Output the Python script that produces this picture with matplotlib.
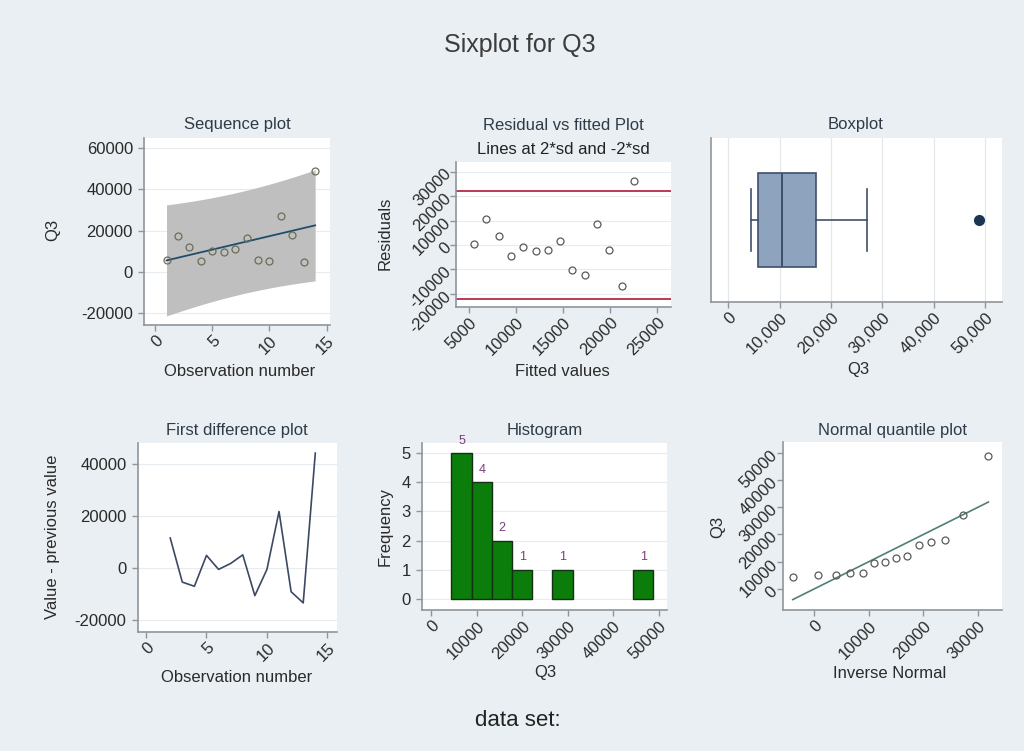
import numpy as np
import matplotlib
matplotlib.use('Agg')
import matplotlib.pyplot as plt
from matplotlib.ticker import FuncFormatter
from statistics import NormalDist

# ---------------- data ----------------
obs = np.arange(1, 15)
q3 = np.array([5800, 17400, 12000, 5000, 9900, 9400, 11200, 16300,
               5700, 5200, 27000, 17900, 4500, 48800])

seq_yticks = [-20000, 0, 20000, 40000, 60000]
obs_ticks = [0, 5, 10, 15]
fit_xticks = [5000, 10000, 15000, 20000, 25000]
res_yticks = [-20000, -10000, 0, 10000, 20000, 30000]
box_xticks = [0, 10000, 20000, 30000, 40000, 50000]
diff_yticks = [-20000, 0, 20000, 40000]
hist_xticks = [0, 10000, 20000, 30000, 40000, 50000]
hist_yticks = [0, 1, 2, 3, 4, 5]
qn_xticks = [0, 10000, 20000, 30000]
qn_yticks = [0, 10000, 20000, 30000, 40000, 50000]
n_bins = 10
T975_12 = 2.1788   # t quantile, 12 df

# ---------------- statistics ----------------
n = len(q3)
xb, yb = obs.mean(), q3.mean()
sxx = ((obs - xb) ** 2).sum()
slope = ((obs - xb) * (q3 - yb)).sum() / sxx
icpt = yb - slope * xb
fitted = icpt + slope * obs
resid = q3 - fitted
rmse = np.sqrt((resid ** 2).sum() / (n - 2))
xs = np.linspace(obs.min(), obs.max(), 200)
fit_xs = icpt + slope * xs
stdf = rmse * np.sqrt(1 + 1 / n + (xs - xb) ** 2 / sxx)
srt = np.sort(q3)
sd = q3.std(ddof=1)
pp = np.arange(1, n + 1) / (n + 1)
inv = np.array([NormalDist(yb, sd).inv_cdf(p) for p in pp])
diffs = np.diff(q3)

# ---------------- style ----------------
plt.rcParams['font.family'] = ['Liberation Sans', 'DejaVu Sans']
BG = '#e9eff2'
SPINE = '#8f959a'
GRID = '#e6ecef'
TXT = '#2a2a2a'
TITLE = '#2f3b48'
FS = 12

W, H = 1024, 751
fig = plt.figure(figsize=(W / 100, H / 100), dpi=100, facecolor=BG)


def add_ax(x0, y0, x1, y1):
    ax = fig.add_axes([x0 / W, 1 - y1 / H, (x1 - x0) / W, (y1 - y0) / H])
    ax.set_facecolor('white')
    for s in ('top', 'right'):
        ax.spines[s].set_visible(False)
    for s in ('left', 'bottom'):
        ax.spines[s].set_color(SPINE)
        ax.spines[s].set_linewidth(1.2)
    ax.tick_params(colors=SPINE, labelcolor=TXT, labelsize=FS, length=4, width=1)
    ax.set_axisbelow(True)
    return ax


def ftext(x, y, s, size=FS, color=TXT, rot=0):
    fig.text(x / W, 1 - y / H, s, ha='center', va='center', fontsize=size,
             color=color, rotation=rot)


def rot_x(ax, pad=2):
    ax.tick_params(axis='x', pad=pad)
    for lb in ax.get_xticklabels():
        lb.set_rotation(45)
        lb.set_ha('right')
        lb.set_va('top')
        lb.set_rotation_mode('anchor')


def rot_y(ax, pad=2):
    ax.tick_params(axis='y', pad=pad)
    for lb in ax.get_yticklabels():
        lb.set_rotation(45)
        lb.set_ha('right')
        lb.set_va('center')
        lb.set_rotation_mode('anchor')


def labs(ticks):
    return [str(t) for t in ticks]


ftext(520, 45, 'Sixplot for Q3', size=18, color='#3c3c3c')
ftext(518, 720, 'data set:', size=16, color='#222222')

# ---- 1. Sequence plot ----
ax = add_ax(144, 137.7, 330, 325)
ax.fill_between(xs, fit_xs - T975_12 * stdf, fit_xs + T975_12 * stdf,
                color='#bfbfbf', lw=0)
ax.plot(xs, fit_xs, color='#1f4e6b', lw=1.3)
ax.plot(obs, q3, 'o', mfc='none', mec='#6d6d58', ms=5, mew=0.9)
ax.set_xlim(-0.97, 15.3)
ax.set_ylim(-25800, 65000)
ax.set_xticks(obs_ticks, labels=labs(obs_ticks))
ax.set_yticks(seq_yticks, labels=labs(seq_yticks))
ax.grid(axis='y', color=GRID, lw=0.8)
ax.tick_params(axis='y', pad=4)
rot_x(ax)
ftext(237, 125, 'Sequence plot', color=TITLE)
ftext(53, 230, 'Q3', rot=90)
ftext(240, 372, 'Observation number')

# ---- 2. Residual vs fitted ----
ax = add_ax(456, 161.7, 671, 306.7)
ax.axhline(2 * rmse, color='#b8294a', lw=1.3)
ax.axhline(-2 * rmse, color='#b8294a', lw=1.3)
ax.plot(fitted, resid, 'o', mfc='none', mec='#5a5a5a', ms=5, mew=0.9)
ax.set_xlim(3585, 26457)
ax.set_ylim(-25200, 34040)
ax.set_xticks(fit_xticks, labels=labs(fit_xticks))
ax.set_yticks(res_yticks, labels=labs(res_yticks))
ax.grid(axis='y', color=GRID, lw=0.8)
rot_x(ax)
rot_y(ax, pad=1.5)
ftext(563, 125, 'Residual vs fitted Plot', color=TITLE)
ftext(563, 149, 'Lines at 2*sd and -2*sd', color='#222222')
ftext(385, 233, 'Residuals', rot=90)
ftext(562, 372, 'Fitted values')

# ---- 3. Boxplot ----
ax = add_ax(710.7, 138.3, 1001.7, 301.7)
BOXE = '#3e5068'
ax.boxplot(q3, orientation='horizontal', positions=[1], widths=1.14,
           capwidths=0.75, patch_artist=True, whis=1.5,
           boxprops=dict(facecolor='#8ea3bd', edgecolor=BOXE, lw=1.2),
           medianprops=dict(color=BOXE, lw=1.4),
           whiskerprops=dict(color=BOXE, lw=1.2),
           capprops=dict(color=BOXE, lw=1.2),
           flierprops=dict(marker='o', mfc='#1c3553', mec='#1c3553', ms=7))
ax.set_ylim(0, 2)
ax.set_xlim(-3430, 53250)
ax.set_yticks([])
ax.set_xticks(box_xticks)
ax.xaxis.set_major_formatter(FuncFormatter(lambda v, p: f'{int(v):,}'))
ax.grid(axis='x', color='#e4e8eb', lw=0.9)
rot_x(ax)
ftext(856, 125, 'Boxplot', color=TITLE)
ftext(858, 370, 'Q3')

# ---- 4. First difference ----
ax = add_ax(137.7, 443.3, 336.7, 631.7)
ax.plot(obs[1:], diffs, color='#3b4a62', lw=1.2)
ax.set_xlim(-0.69, 15.77)
ax.set_ylim(-24500, 48080)
ax.set_xticks(obs_ticks, labels=labs(obs_ticks))
ax.set_yticks(diff_yticks, labels=labs(diff_yticks))
ax.grid(axis='y', color=GRID, lw=0.8)
ax.tick_params(axis='y', pad=4)
rot_x(ax)
ftext(237, 431, 'First difference plot', color=TITLE)
ftext(53, 537, 'Value - previous value', rot=90)
ftext(237, 677, 'Observation number')

# ---- 5. Histogram ----
ax = add_ax(421.7, 443.3, 666.7, 610)
counts, edges, patches = ax.hist(q3, bins=n_bins, color='#0b7d0b',
                                 edgecolor='#163016', lw=1)
for c, l, r, pt in zip(counts, edges[:-1], edges[1:], patches):
    if c > 0:
        ax.text((l + r) / 2, c + 0.43, str(int(c)), ha='center', va='center',
                fontsize=9, color='#7d3c7d')
    else:
        pt.set_visible(False)
ax.set_xlim(-2040, 51760)
ax.set_ylim(-0.38, 5.34)
ax.set_xticks(hist_xticks, labels=labs(hist_xticks))
ax.set_yticks(hist_yticks, labels=labs(hist_yticks))
ax.grid(axis='y', color=GRID, lw=0.8)
ax.tick_params(axis='y', pad=4)
rot_x(ax)
ftext(545, 431, 'Histogram', color=TITLE)
ftext(385, 527, 'Frequency', rot=90)
ftext(545, 673, 'Q3')

# ---- 6. Normal quantile ----
ax = add_ax(782.7, 441.7, 1001.7, 610)
ax.plot([inv[0], inv[-1]], [inv[0], inv[-1]], color='#4f7f78', lw=1.2)
ax.plot(inv, srt, 'o', mfc='none', mec='#5a5a5a', ms=5, mew=0.9)
ax.set_xlim(-5730, 34330)
ax.set_ylim(-7700, 54030)
ax.set_xticks(qn_xticks, labels=labs(qn_xticks))
ax.set_yticks(qn_yticks, labels=labs(qn_yticks))
rot_x(ax)
rot_y(ax, pad=1.5)
ftext(892, 431, 'Normal quantile plot', color=TITLE)
ftext(718, 527, 'Q3', rot=90)
ftext(890, 673, 'Inverse Normal')

fig.savefig('out.png', dpi=100, facecolor=BG)
